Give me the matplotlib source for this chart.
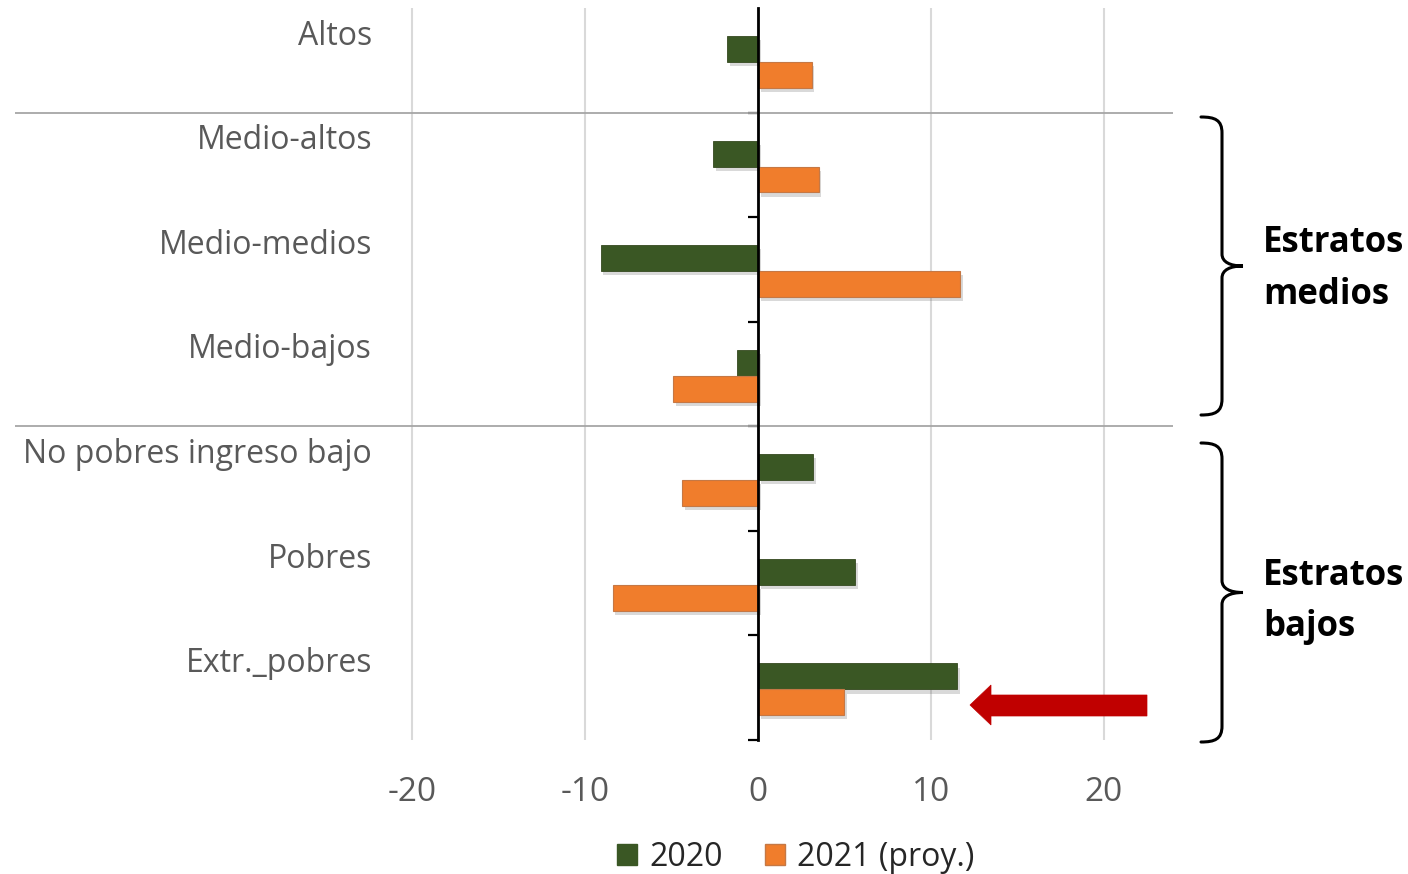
import matplotlib
matplotlib.use("Agg")
import matplotlib.pyplot as plt
import matplotlib.patheffects as pe
from matplotlib.patches import Patch, Polygon, PathPatch
from matplotlib.path import Path
from matplotlib.transforms import Affine2D

plt.rcParams['font.family'] = ['Open Sans', 'DejaVu Sans']

categories = ["Altos", "Medio-altos", "Medio-medios", "Medio-bajos",
              "No pobres ingreso bajo", "Pobres", "Extr._pobres"]
values_2020 = [-1.8, -2.6, -9.1, -1.2, 3.2, 5.6, 11.5]
values_2021 = [3.1, 3.5, 11.7, -4.9, -4.4, -8.4, 5.0]
series_names = ["2020", "2021 (proy.)"]
x_ticks = [-20, -10, 0, 10, 20]

GREEN = "#3A5724"
ORANGE = "#F07D2C"
GRAY_TXT = "#595959"

W, H = 1408, 874
fig = plt.figure(figsize=(W / 100, H / 100), dpi=100)
ax = fig.add_axes([15 / W, 1 - 740 / H, 1158 / W, 732 / H])

ax.set_xlim(-42.95, 23.99)
ax.set_ylim(len(categories), 0)

bar_h = 0.248
pos = list(range(len(categories)))
shadow = [pe.SimplePatchShadow(offset=(2, -3), alpha=0.22, shadow_rgbFace="#555555"), pe.Normal()]
b1 = ax.barh([p + 0.392 for p in pos], values_2020, height=bar_h, color=GREEN,
             edgecolor="#34491F", linewidth=0.6, zorder=3)
b2 = ax.barh([p + 0.640 for p in pos], values_2021, height=bar_h, color=ORANGE,
             edgecolor="#C57845", linewidth=0.8, zorder=3)
for bar in list(b1) + list(b2):
    bar.set_path_effects(shadow)

# gridlines only on labelled ticks
for xv in x_ticks:
    ax.axvline(xv, color="#D9D9D9", lw=1.5, zorder=1)

# separators between groups
for yv in (1, 4):
    ax.axhline(yv, color="#A6A6A6", lw=1.3, zorder=2)

for s in ("top", "right", "bottom"):
    ax.spines[s].set_visible(False)
ax.spines["left"].set_position(("data", 0))
ax.spines["left"].set_linewidth(2)
ax.spines["left"].set_color("black")
ax.spines["left"].set_zorder(5)
ax.set_yticks(range(1, len(categories) + 1))
ax.set_yticklabels([])
ax.tick_params(axis="y", length=7.5, width=1.6, color="black", direction="out")

ax.set_xticks(x_ticks)
ax.set_xticklabels([str(v) for v in x_ticks])
ax.tick_params(axis="x", length=0, pad=26, labelsize=24, labelcolor=GRAY_TXT)

for i, cat in enumerate(categories):
    ax.text(-22.3, i + 0.27, cat, ha="right", va="center", fontsize=23, color=GRAY_TXT)

# top-left pixel coordinates for annotations
pix = Affine2D().scale(1 / W, -1 / H).translate(0, 1) + fig.transFigure


def brace(top, bottom, x_end=1201, x_mid=1222, x_tip=1243):
    mid = (top + bottom) / 2
    verts = [
        (x_end, top),
        (x_end + 14, top), (x_mid, top + 3), (x_mid, top + 16),
        (x_mid, mid - 12),
        (x_mid, mid - 4), (x_mid + 8, mid), (x_tip, mid),
        (x_mid + 8, mid), (x_mid, mid + 4), (x_mid, mid + 12),
        (x_mid, bottom - 16),
        (x_mid, bottom - 3), (x_end + 14, bottom), (x_end, bottom),
    ]
    codes = [Path.MOVETO,
             Path.CURVE4, Path.CURVE4, Path.CURVE4,
             Path.LINETO,
             Path.CURVE4, Path.CURVE4, Path.CURVE4,
             Path.CURVE4, Path.CURVE4, Path.CURVE4,
             Path.LINETO,
             Path.CURVE4, Path.CURVE4, Path.CURVE4]
    fig.add_artist(PathPatch(Path(verts, codes), transform=pix, fill=False,
                             edgecolor="black", lw=2.2, capstyle="round"))


brace(117, 415)
brace(443, 742)

for txt, ypx in (("Estratos", 243), ("medios", 295), ("Estratos", 576), ("bajos", 627)):
    fig.text(1263 / W, 1 - ypx / H, txt, transform=fig.transFigure, fontsize=25,
             fontweight="bold", color="black", va="center", ha="left")

# red arrow pointing at the lowest group
arrow_pts = [(970, 705), (991, 685), (991, 695), (1147, 695),
             (1147, 716), (991, 716), (991, 725)]
fig.add_artist(Polygon(arrow_pts, closed=True, transform=pix,
                       facecolor="#C00000", edgecolor="#C00000", lw=0.5))

handles = [Patch(facecolor=GREEN, edgecolor=GREEN), Patch(facecolor=ORANGE, edgecolor="#C57845")]
fig.legend(handles, series_names, loc="center", bbox_to_anchor=(796 / W, 1 - 857 / H),
           ncol=2, frameon=False, fontsize=23, handlelength=0.62, handleheight=0.62,
           handletextpad=0.4, columnspacing=1.3, labelcolor="#262626")

fig.savefig("out.png", dpi=100)
